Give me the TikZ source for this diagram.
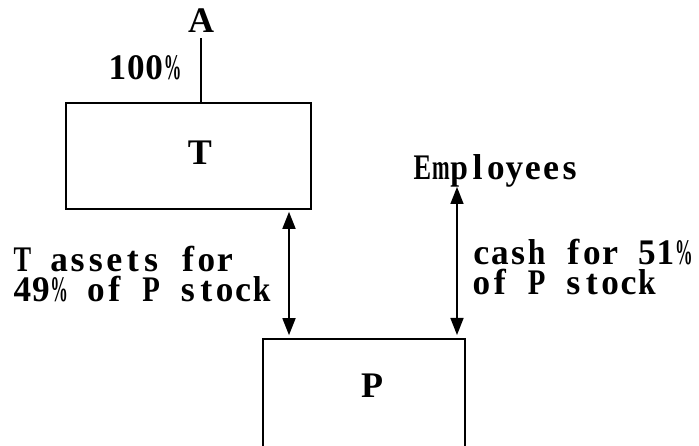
\documentclass[tikz,border=0pt]{standalone}
\usepackage{fontspec}
\setmainfont{Liberation Serif}
\usetikzlibrary{arrows.meta}
\newsavebox\chbox
\ExplSyntaxOn
\cs_new_protected:Npn \mono #1
  {
    \tl_map_inline:nn {#1}
      {
        \sbox\chbox{##1}
        \dim_compare:nNnTF { \wd\chbox } > { 17.6pt }
          { \makebox[18.4pt]{\resizebox{17.6pt}{\height}{\usebox\chbox}} }
          { \makebox[18.4pt]{\usebox\chbox} }
      }
  }
\ExplSyntaxOff
\begin{document}
\begin{tikzpicture}[x=1pt,y=-1pt,
  box/.style={draw,line width=1.6pt,inner sep=0pt},
  txt/.style={inner sep=0pt,font=\fontsize{36}{40}\selectfont\bfseries},
  dbl/.style={line width=1.6pt,{Triangle[length=17pt,width=13pt]}-{Triangle[length=17pt,width=13pt]}}]
\useasboundingbox (0,0) rectangle (699,446);
\node[box,minimum width=245pt,minimum height=106pt] (T) at (188.5,156) {};
\node[box,minimum width=202pt,minimum height=131pt] (P) at (364,404.5) {};
\node[txt,anchor=base] (A) at (201,33) {A};
\node[txt,anchor=base west] (pc) at (108,80) {\mono{100\%}};
\node[txt,anchor=base] (Tl) at (200,165) {T};
\node[txt,anchor=base] (Pl) at (372,397) {P};
\node[txt,anchor=base west] (emp) at (413,180) {\mono{Employees}};
\node[txt,anchor=base west] (l1) at (13,272) {\mono{T~assets~for}};
\node[txt,anchor=base west] (l2) at (13,302) {\mono{49\%~of~P~stock}};
\node[txt,anchor=base west] (r1) at (472,265) {\mono{cash~for~51\%}};
\node[txt,anchor=base west] (r2) at (472,295) {\mono{of~P~stock}};
\coordinate (la) at (289,0);
\coordinate (ra) at (457,0);
\draw[line width=1.6pt,shorten <=5pt] (A.south) -- (A.south |- T.north);
\draw[dbl,shorten <=2pt,shorten >=3pt] (la |- T.south) -- (la |- P.north);
\draw[dbl] (ra |- 0,187) -- (ra |- 0,335);
\end{tikzpicture}
\end{document}
